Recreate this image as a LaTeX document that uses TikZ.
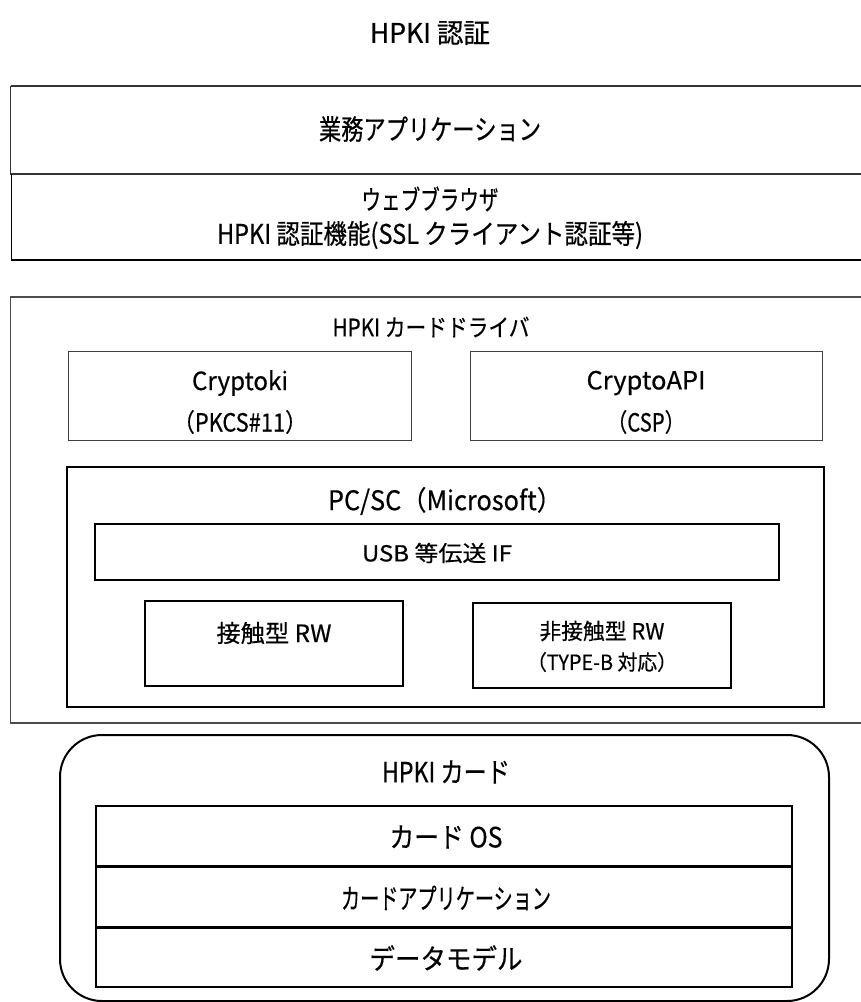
\documentclass[tikz,border=0pt]{standalone}
\usepackage{fontspec}
\usepackage{graphicx}
\setmainfont[FakeBold=0.5]{Noto Sans CJK JP}
\newcommand{\fw}[3]{\resizebox{#1pt}{\height}{\fontsize{#2}{#2}\selectfont #3}}
\begin{document}
\begin{tikzpicture}[x=1pt,y=-1pt,
  lbl/.style={inner sep=0pt, anchor=center},
  thinbox/.style={draw=black!75, line width=1pt},
  thickbox/.style={draw=black, line width=2pt},
  outerbox/.style={draw=black!70, line width=1.5pt}]
\useasboundingbox (0,0) rectangle (861,1002);
\fill[white] (0,0) rectangle (861,1002);
% title
\node[lbl] (title) at (430,33) {\fw{120}{27}{HPKI 認証}};
% top box
\draw[draw=black!80, line width=1.5pt] (10.5,86) -- (875,86) (10.5,86) -- (10.5,174) -- (875,174);
\draw[draw=black, line width=1.5pt] (11.5,174) -- (11.5,260) -- (875,260);
\node[lbl] (app) at (430,129) {\fw{222}{28}{業務アプリケーション}};
\node[lbl] (browser) at (430,199) {\fw{137}{27}{ウェブブラウザ}};
\node[lbl] (auth) at (430,235) {\fw{426}{27}{HPKI 認証機能(SSL クライアント認証等)}};
% card driver box
\draw[outerbox] (875,297) -- (10.5,297) -- (10.5,723) -- (875,723);
\node[lbl] (driver) at (431,327) {\fw{197}{24}{HPKI カードドライバ}};
\draw[thinbox] (68,351) rectangle (411,440);
\node[lbl] (cryptoki) at (240,383) {\fw{96}{25}{Cryptoki}};
\node[lbl] (pkcs) at (240,422) {\fw{134}{25}{（PKCS\#11）}};
\draw[thinbox] (470,351) rectangle (822,440);
\node[lbl] (capi) at (646,383) {\fw{119}{25}{CryptoAPI}};
\node[lbl] (csp) at (646,422) {\fw{78}{25}{（CSP）}};
% PC/SC
\draw[thickbox] (67,467) rectangle (824,707);
\node[lbl] (pcsc) at (445,501) {\fw{234}{27}{PC/SC（Microsoft）}};
\draw[thickbox] (95,524) rectangle (779,580);
\node[lbl] (usb) at (437,553) {\fw{150}{22}{USB 等伝送 IF}};
\draw[thickbox] (145,601) rectangle (403,686);
\node[lbl] (rw1) at (274,633) {\fw{115}{24}{接触型 RW}};
\draw[thickbox] (473,603) rectangle (731,688);
\node[lbl] (rw2) at (602,631) {\fw{125}{22}{非接触型 RW}};
\node[lbl] (rw2b) at (602,662) {\fw{150}{21}{（TYPE-B 対応）}};
% card
\draw[thickbox, rounded corners=42pt] (60,735) rectangle (829,1001);
\node[lbl] (card) at (446,772) {\fw{128}{28}{HPKI カード}};
\draw[thickbox] (96,806) rectangle (792,987);
\draw[draw=black, line width=3pt] (96,866) -- (792,866) (96,927) -- (792,927);
\node[lbl] (os) at (446,837) {\fw{113}{28}{カード OS}};
\node[lbl] (capp) at (446,898) {\fw{210}{28}{カードアプリケーション}};
\node[lbl] (data) at (446,958) {\fw{153}{28}{データモデル}};
\end{tikzpicture}
\end{document}
